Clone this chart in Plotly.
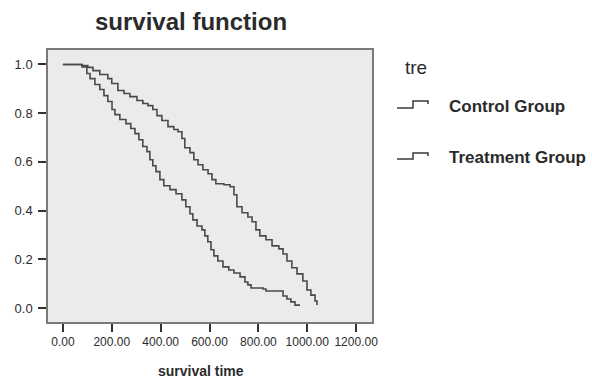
import plotly.graph_objects as go

# ---- data ----
treat_time = [0, 78, 102, 123, 151, 184, 200, 225, 250, 274, 303, 327, 348, 368, 385, 405,
              430, 454, 471, 487, 499, 520, 536, 553, 573, 594, 610, 626, 659, 684, 700, 712,
              733, 757, 774, 790, 806, 831, 856, 884, 901, 917, 937, 958, 982, 999, 1015, 1032, 1040]
treat_surv = [1.0, 0.996, 0.988, 0.975, 0.959, 0.942, 0.922, 0.893, 0.881, 0.868, 0.852, 0.840, 0.831,
              0.815, 0.790, 0.770, 0.745, 0.733, 0.724, 0.696, 0.658, 0.638, 0.609, 0.588, 0.568,
              0.551, 0.527, 0.510, 0.506, 0.498, 0.465, 0.416, 0.391, 0.374, 0.354, 0.321, 0.296,
              0.280, 0.255, 0.243, 0.222, 0.193, 0.165, 0.140, 0.111, 0.074, 0.053, 0.029, 0.012]

ctrl_time = [0, 78, 98, 111, 131, 151, 168, 184, 201, 213, 233, 258, 278, 295, 311, 327, 344,
             356, 368, 381, 397, 413, 438, 463, 487, 503, 520, 532, 549, 569, 581, 593, 606, 618,
             634, 655, 679, 700, 725, 745, 757, 770, 819, 831, 901, 917, 933, 950, 970]
ctrl_surv = [1.0, 0.99, 0.963, 0.942, 0.918, 0.897, 0.872, 0.848, 0.815, 0.794, 0.774, 0.757, 0.737,
             0.716, 0.691, 0.663, 0.642, 0.609, 0.584, 0.560, 0.527, 0.502, 0.486, 0.469, 0.444,
             0.416, 0.387, 0.362, 0.337, 0.321, 0.296, 0.272, 0.239, 0.214, 0.193, 0.169, 0.156,
             0.144, 0.128, 0.107, 0.095, 0.082, 0.078, 0.070, 0.049, 0.037, 0.025, 0.012, 0.012]

x_ticks = [0, 200, 400, 600, 800, 1000, 1200]
x_tick_labels = ["0.00", "200.00", "400.00", "600.00", "800.00", "1000.00", "1200.00"]
y_ticks = [0.0, 0.2, 0.4, 0.6, 0.8, 1.0]
y_tick_labels = ["0.0", "0.2", "0.4", "0.6", "0.8", "1.0"]

series_names = ["Control Group", "Treatment Group"]
legend_title = "tre"
chart_title = "survival function"
x_title = "survival time"

FONT = "Liberation Sans, Arial, sans-serif"
LINE = "#4a4a4a"
TXT = "#2b2b2b"

fig = go.Figure()
fig.add_trace(go.Scatter(x=ctrl_time, y=ctrl_surv, mode="lines", line_shape="hv",
                         line=dict(color=LINE, width=1.6), name=series_names[0]))
fig.add_trace(go.Scatter(x=treat_time, y=treat_surv, mode="lines", line_shape="hv",
                         line=dict(color=LINE, width=1.6), name=series_names[1]))

axis_common = dict(showgrid=False, zeroline=False, showline=True, mirror=True,
                   linecolor="#7a7a7a", linewidth=1.5, ticks="outside",
                   tickcolor="#333333", tickwidth=1.8, ticklen=8)

fig.update_layout(
    width=592, height=378,
    margin=dict(l=48, r=220, t=50, b=56),
    paper_bgcolor="white", plot_bgcolor="#ebebeb",
    showlegend=False,
    font=dict(family=FONT, color=TXT),
    xaxis=dict(range=[-61, 1265], tickvals=x_ticks, ticktext=x_tick_labels,
               tickfont=dict(size=12, color=TXT), **axis_common),
    yaxis=dict(range=[-0.0575, 1.0595], tickvals=y_ticks, ticktext=y_tick_labels,
               tickfont=dict(size=13, color=TXT), ticklabelstandoff=3, **axis_common),
)

ann = []
ann.append(dict(text="<b>%s</b>" % chart_title, x=0.44, y=1.103, xref="paper", yref="paper",
                showarrow=False, xanchor="center", yanchor="middle",
                font=dict(size=24, color=TXT, family=FONT)))
ann.append(dict(text="<b>%s</b>" % x_title, x=0.472, y=-0.18, xref="paper", yref="paper",
                showarrow=False, xanchor="center", yanchor="middle",
                font=dict(size=14, color=TXT, family=FONT)))
ann.append(dict(text=legend_title, x=1.0957, y=0.9375, xref="paper", yref="paper",
                showarrow=False, xanchor="left", yanchor="middle",
                font=dict(size=19, color=TXT, family=FONT)))
legend_y = [0.794, 0.6066]
for name, ly in zip(series_names, legend_y):
    ann.append(dict(text="<b>%s</b>" % name, x=1.2315, y=ly, xref="paper", yref="paper",
                    showarrow=False, xanchor="left", yanchor="middle",
                    font=dict(size=17, color=TXT, family=FONT)))
fig.update_layout(annotations=ann)

# legend step glyphs
glyph_y = [(0.7868, 0.8125, 0.8015), (0.5993, 0.6213, 0.6103)]
shapes = []
for lo, hi, mid in glyph_y:
    path = "M 1.0772,%f L 1.1265,%f L 1.1265,%f L 1.1728,%f L 1.1728,%f" % (lo, lo, hi, hi, mid)
    shapes.append(dict(type="path", path=path, xref="paper", yref="paper",
                       line=dict(color="#3a3a3a", width=1.5)))
fig.update_layout(shapes=shapes)

fig.write_html("out.html", config={"displayModeBar": False},
               post_script="document.body.style.margin='0';")
